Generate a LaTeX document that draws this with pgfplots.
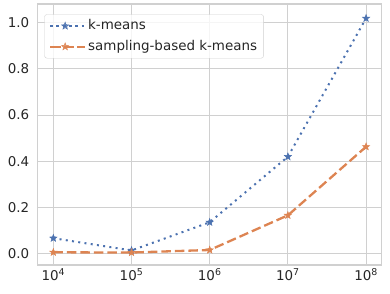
\documentclass[border=0pt]{standalone}
\usepackage{fontspec}
\setmainfont{DejaVu Sans}
\usepackage{pgfplots}
\pgfplotsset{compat=1.18}
\definecolor{sbblue}{HTML}{4C72B0}
\definecolor{sborange}{HTML}{DD8452}
\definecolor{gridgray}{HTML}{D0D0D0}
\definecolor{txt}{HTML}{262626}
\pgfdeclareplotmark{fstar}{%
  \pgfpathmoveto{\pgfpointpolar{90}{\pgfplotmarksize}}%
  \pgfpathlineto{\pgfpointpolar{126}{0.42\pgfplotmarksize}}%
  \pgfpathlineto{\pgfpointpolar{162}{\pgfplotmarksize}}%
  \pgfpathlineto{\pgfpointpolar{198}{0.42\pgfplotmarksize}}%
  \pgfpathlineto{\pgfpointpolar{234}{\pgfplotmarksize}}%
  \pgfpathlineto{\pgfpointpolar{270}{0.42\pgfplotmarksize}}%
  \pgfpathlineto{\pgfpointpolar{306}{\pgfplotmarksize}}%
  \pgfpathlineto{\pgfpointpolar{342}{0.42\pgfplotmarksize}}%
  \pgfpathlineto{\pgfpointpolar{18}{\pgfplotmarksize}}%
  \pgfpathlineto{\pgfpointpolar{54}{0.42\pgfplotmarksize}}%
  \pgfpathclose
  \pgfusepathqfillstroke
}
\begin{document}
\begin{tikzpicture}
\begin{axis}[
  scale only axis, width=344bp, height=261bp,
  xmode=log, xmin=6309.57, xmax=158489319,
  ymin=-0.049, ymax=1.081,
  xtick={1e4,1e5,1e6,1e7,1e8},
  xticklabels={10\textsuperscript{4},10\textsuperscript{5},10\textsuperscript{6},10\textsuperscript{7},10\textsuperscript{8}},
  ytick={0,0.2,0.4,0.6,0.8,1.0},
  /pgf/number format/fixed, /pgf/number format/fixed zerofill,
  /pgf/number format/precision=1, /pgf/number format/assume math mode=true,
  grid=major, major grid style={gridgray, line width=1bp},
  axis line style={gridgray, line width=1.25bp},
  major tick length=0pt, minor tick length=0pt,
  tick label style={font=\fontsize{13.5}{15}\selectfont, text=txt},
  yticklabel style={xshift=-5bp},
  xticklabel style={yshift=0bp},
  legend style={at={(0.0192,0.9605)}, anchor=north west, draw=gridgray, rounded corners=2.5bp,
    fill=white, fill opacity=0.8, text opacity=1, font=\fontsize{13.5}{15}\selectfont, text=txt,
    inner xsep=4.5bp, inner ysep=1.5bp, row sep=0.7bp,
    nodes={text height=10bp, text depth=3bp, inner ysep=3.5bp}},
  legend cell align=left,
  legend image code/.code={\path (-1bp,0bp) -- (34pt,0bp);\draw[#1] (0bp,0bp) -- (28bp,0bp);\draw[#1] plot coordinates {(14bp,0bp)};},
]
\addplot[sbblue, line width=2bp, dash pattern=on 2bp off 4.3bp, mark=fstar, mark size=3.8bp, mark options={solid, line width=0.5bp}]
  coordinates {(1e4,0.067) (1e5,0.014) (1e6,0.136) (1e7,0.420) (1e8,1.019)};
\addlegendentry{k-means}
\addplot[sborange, line width=2.3bp, dash pattern=on 9.5bp off 4bp, mark=fstar, mark size=3.8bp, mark options={solid, line width=0.5bp}]
  coordinates {(1e4,0.006) (1e5,0.005) (1e6,0.016) (1e7,0.166) (1e8,0.463)};
\addlegendentry{sampling-based k-means}
\end{axis}
\pgfresetboundingbox
\path ([xshift=-37.7bp,yshift=-29bp]current axis.south west) rectangle ([xshift=8.3bp,yshift=4bp]current axis.north east);
\end{tikzpicture}
\end{document}
